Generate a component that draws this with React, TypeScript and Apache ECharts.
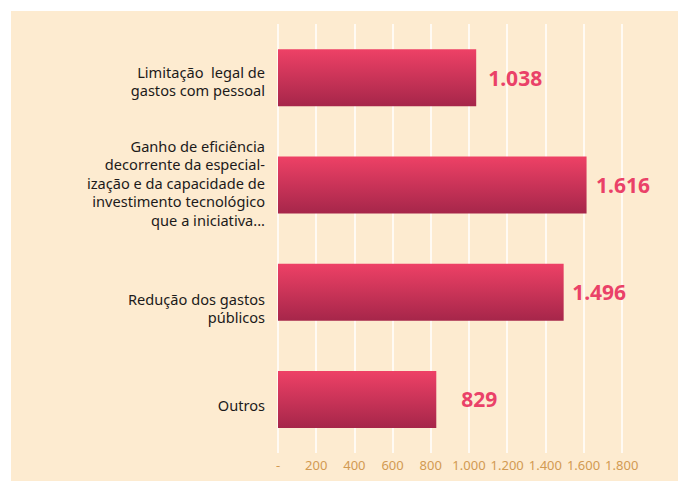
import React, { useEffect, useRef } from "react";
import * as echarts from "echarts";

const categories = [
  "Limitação  legal de\ngastos com pessoal",
  "Ganho de eficiência\ndecorrente da especial-\nização e da capacidade de\ninvestimento tecnológico\nque a iniciativa...",
  "Redução dos gastos\npúblicos",
  "Outros",
];
const values = [1038, 1616, 1496, 829];
const labelGaps = [12, 9.5, 8.5, 25];
const categoryLabelShift = [3.5, -2, 16, 6];
const axisMax = 1800;
const axisInterval = 200;

const fmt = (v: number) =>
  v === 0 ? "-" : String(v).replace(/\B(?=(\d{3})+(?!\d))/g, ".");

export default function App() {
  const ref = useRef<HTMLDivElement>(null);
  useEffect(() => {
    if (!ref.current) return;
    const chart = echarts.init(ref.current, undefined, { renderer: "svg" });
    const gridLeft = 278;
    chart.setOption({
      animation: false,
      backgroundColor: "transparent",
      grid: { left: gridLeft, right: 56.3, top: 24, bottom: 28, containLabel: false },
      xAxis: {
        type: "value",
        min: 0,
        max: axisMax,
        interval: axisInterval,
        axisLine: { show: false },
        axisTick: { show: false },
        splitLine: { show: true, lineStyle: { color: "#ffffff", width: 1.5 } },
        axisLabel: {
          formatter: fmt,
          color: "#d29a52",
          fontSize: 13,
          fontFamily: "Noto Sans",
          margin: 5,
        },
      },
      yAxis: {
        type: "category",
        inverse: true,
        data: categories,
        axisLine: { show: false },
        axisTick: { show: false },
        splitLine: { show: false },
        axisLabel: { show: false },
      },
      series: [
        {
          type: "bar",
          barWidth: 57,
          data: values.map((v, i) => ({
            value: v,
            label: { distance: labelGaps[i] },
          })),
          itemStyle: {
            color: new echarts.graphic.LinearGradient(0, 0, 0, 1, [
              { offset: 0, color: "#ee4166" },
              { offset: 1, color: "#a6264a" },
            ]),
          },
          label: {
            show: true,
            position: "right",
            formatter: (p: any) => fmt(p.value),
            color: "#ea4168",
            fontSize: 21,
            fontWeight: "bold",
            fontFamily: "Noto Sans",
          },
        },
      ],
    });
    const texts = categories.map((c, i) => {
      const cy = chart.convertToPixel({ yAxisIndex: 0 }, i) as number;
      return {
        type: "text",
        x: gridLeft - 13,
        y: cy + categoryLabelShift[i],
        style: {
          text: c,
          align: "right",
          verticalAlign: "middle",
          fontSize: 14.6,
          lineHeight: 18.5,
          fontFamily: "Noto Sans",
          fill: "#1c1a1a",
        },
      };
    });
    chart.setOption({ graphic: texts });
    return () => chart.dispose();
  }, []);
  return (
    <div style={{ position: "fixed", left: 0, top: 0, width: 678, height: 481, background: "#ffffff" }}>
      <div style={{ position: "absolute", left: 11, top: 11, right: 0, bottom: 0, background: "#fdebd0" }} />
      <div ref={ref} style={{ position: "absolute", left: 0, top: 0, width: 678, height: 481 }} />
    </div>
  );
}
